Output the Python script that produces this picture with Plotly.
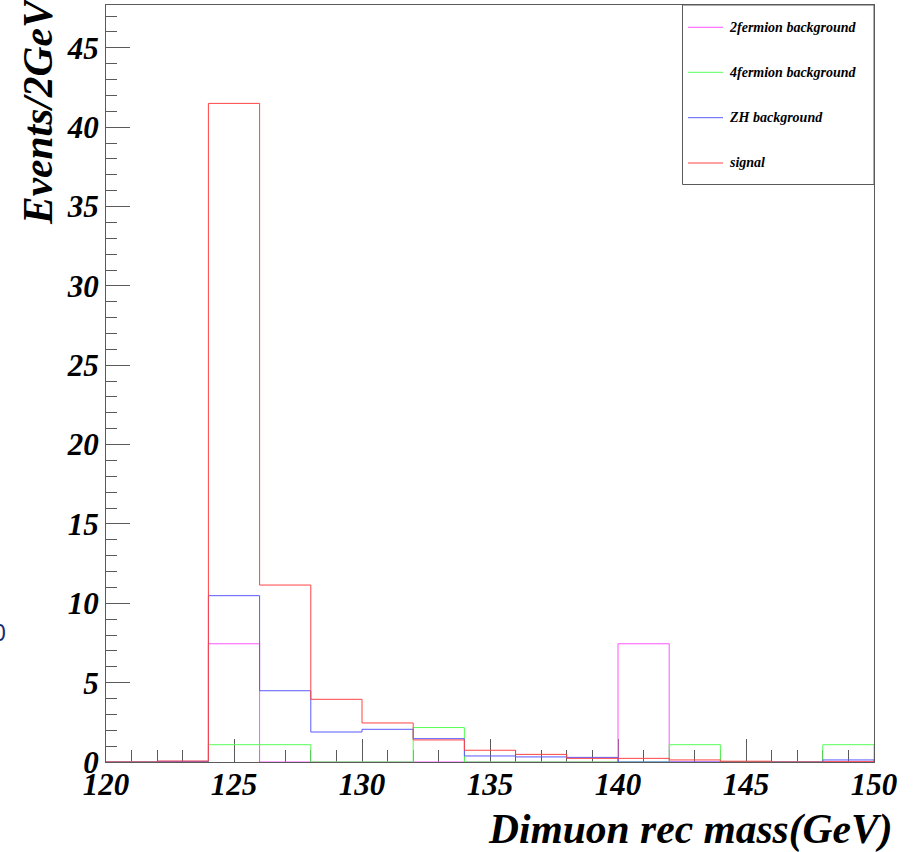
import plotly.graph_objects as go

# ---------------- data ----------------
bin_edges = [120, 122, 124, 126, 128, 130, 132, 134, 136, 138, 140, 142, 144, 146, 148, 150]
series_names = ["2fermion background", "4fermion background", "ZH background", "signal"]
fermion2_bg = [0, 0, 7.45, 0, 0, 0, 0, 0, 0, 0, 7.45, 0, 0, 0, 0]
fermion4_bg = [0, 0, 1.09, 1.09, 0, 0, 2.17, 0, 0, 0, 0, 1.09, 0.03, 0, 1.09]
zh_bg = [0, 0.04, 10.48, 4.49, 1.89, 2.06, 1.47, 0.38, 0.32, 0.29, 0, 0, 0, 0, 0.13]
signal = [0, 0.06, 41.5, 11.15, 3.95, 2.46, 1.39, 0.74, 0.48, 0.23, 0.23, 0.13, 0.05, 0, 0.02]
series_values = [fermion2_bg, fermion4_bg, zh_bg, signal]
series_colors = ["#ff55ff", "#55ff55", "#5a5aff", "#ff4444"]
x_ticks = [120, 125, 130, 135, 140, 145, 150]
y_ticks = [0, 5, 10, 15, 20, 25, 30, 35, 40, 45]

# ---------------- figure ----------------
W, H = 916, 852
L, R, T, B = 106, 874, 5, 762   # plot-area pixel box


def px(x):
    return (x - L) / (R - L)


def py(y):
    return (B - y) / (B - T)


FONT = "Liberation Serif, Times New Roman, serif"
AXC = "#5a5a5a"

fig = go.Figure()
for name, vals, col in zip(series_names, series_values, series_colors):
    xs = list(bin_edges) + [bin_edges[-1]]
    ys = list(vals) + [vals[-1], 0]
    fig.add_trace(go.Scatter(x=xs, y=ys, mode="lines", line=dict(color=col, width=1, shape="hv"),
                             name=name, showlegend=False, hoverinfo="skip"))

tickfont = dict(family=FONT, size=31, color="black", weight="bold", style="italic")
fig.update_layout(
    width=W, height=H,
    margin=dict(l=L, r=W - R, t=T, b=H - B, pad=0),
    paper_bgcolor="white", plot_bgcolor="white",
    xaxis=dict(range=[120, 150], tickmode="array", tickvals=x_ticks, ticktext=[str(v) for v in x_ticks],
               ticks="inside", ticklen=23, tickwidth=1, tickcolor=AXC,
               minor=dict(ticks="inside", ticklen=12, dtick=1, tick0=120, tickcolor=AXC, showgrid=False),
               showline=True, linecolor=AXC, linewidth=1, mirror=True, ticklabelstandoff=-5,
               showgrid=False, zeroline=False, tickfont=tickfont, layer="below traces"),
    yaxis=dict(range=[0, 47.7], tickmode="array", tickvals=y_ticks, ticktext=[str(v) for v in y_ticks],
               ticks="inside", ticklen=24, tickwidth=1, tickcolor=AXC,
               minor=dict(ticks="inside", ticklen=11, dtick=1, tick0=0, tickcolor=AXC, showgrid=False),
               showline=True, linecolor=AXC, linewidth=1, mirror=True,
               showgrid=False, zeroline=False, tickfont=tickfont, layer="below traces"),
)

# axis titles
titlefont = dict(family=FONT, size=41.5, color="black", weight="bold", style="italic")
fig.add_annotation(text="Dimuon rec mass(GeV)", xref="paper", yref="paper",
                   x=px(690), y=py(829), xanchor="center", yanchor="middle",
                   showarrow=False, font=titlefont)
fig.add_annotation(text="Events/2GeV", xref="paper", yref="paper", textangle=-90,
                   x=px(38), y=py(111), xanchor="center", yanchor="middle",
                   showarrow=False, font=titlefont)

# stray clipped character at the left edge
fig.add_annotation(text="0", xref="paper", yref="paper", x=px(-1), y=py(633),
                   xanchor="center", yanchor="middle", showarrow=False,
                   font=dict(family="Liberation Sans, Arial", size=23, color="#1a2b6d"))

# legend box (ROOT style)
fig.add_shape(type="rect", xref="paper", yref="paper", x0=px(682.5), x1=px(874), y0=py(184.5), y1=py(5),
              line=dict(color=AXC, width=1), fillcolor="white", layer="above")
legend_rows = [27.3, 72.3, 117.7, 163]
legfont = dict(family=FONT, size=14, color="black", weight="bold", style="italic")
for name, col, yy in zip(series_names, series_colors, legend_rows):
    fig.add_shape(type="line", xref="paper", yref="paper", x0=px(688), x1=px(723), y0=py(yy), y1=py(yy),
                  line=dict(color=col, width=1), layer="above")
    fig.add_annotation(text=name, xref="paper", yref="paper", x=px(727), y=py(yy),
                       xanchor="left", yanchor="middle", showarrow=False, font=legfont)

fig.write_html("out.html", config={"displayModeBar": False},
               post_script="document.body.style.margin='0';document.body.style.overflow='hidden';")
